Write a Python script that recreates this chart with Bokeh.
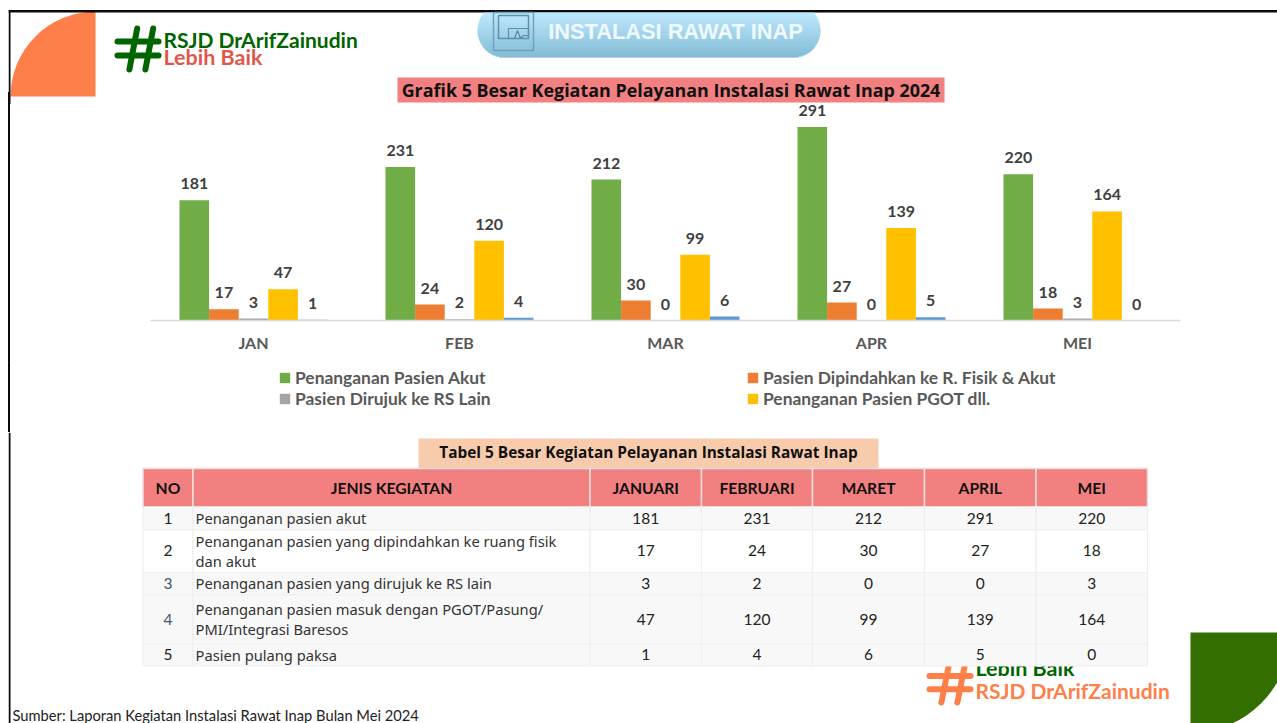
import math
from bokeh.plotting import figure
from bokeh.models import Range1d, FactorRange, Legend, LegendItem, ColumnDataSource
from bokeh.transform import dodge
from bokeh.core.properties import value
from bokeh.embed import file_html
from bokeh.resources import INLINE

# ---- data ----
months = ["JAN", "FEB", "MAR", "APR", "MEI"]
akut = [181, 231, 212, 291, 220]
pindah = [17, 24, 30, 27, 18]
rujuk = [3, 2, 0, 0, 3]
pgot = [47, 120, 99, 139, 164]
pulang = [1, 4, 6, 5, 0]
series_names = ["Penanganan Pasien Akut", "Pasien Dipindahkan ke R. Fisik & Akut",
                "Pasien Dirujuk ke RS Lain", "Penanganan Pasien PGOT dll.", "Pasien Pulang Paksa"]
series_colors = ["#70AD47", "#ED7D31", "#A5A5A5", "#FFC000", "#5B9BD5"]

table_head = ["NO", "JENIS KEGIATAN", "JANUARI", "FEBRUARI", "MARET", "APRIL", "MEI"]
table_no = ["1", "2", "3", "4", "5"]
table_no_colors = ["#222222", "#222222", "#44546A", "#44546A", "#222222"]
table_jenis = [["Penanganan pasien akut"],
               ["Penanganan pasien yang dipindahkan ke ruang fisik", "dan akut"],
               ["Penanganan pasien yang dirujuk ke RS lain"],
               ["Penanganan pasien masuk dengan PGOT/Pasung/", "PMI/Integrasi Baresos"],
               ["Pasien pulang paksa"]]

PAGE_W, TOTAL_H = 1269, 715
H1 = 96                     # header height
Y1, Y2 = 92, 432            # chart top / table top
H2 = Y2 - Y1
H3 = 723 - Y2
BLACK = "#0A0A0A"


def place(f, y):
    f.styles = dict(f.styles or {}, position="absolute", left="8px", top=f"{y}px")


def sheet(top, h):
    f = figure(width=PAGE_W, height=h, x_range=Range1d(8, 1277), y_range=Range1d(top + h, top),
               output_backend="svg", toolbar_location=None, min_border=0, outline_line_color=None)
    f.axis.visible = False
    f.grid.visible = False
    place(f, top)
    return f


def txt(f, x, y, s, size, color, style="normal", font="Lato", align="left"):
    f.text([x], [y], text=[s], text_font=value(font), text_font_size=f"{size}px",
           text_font_style=style, text_color=color, text_align=align, text_baseline="middle")


def hash_mark(f, x0, y0, w, h, color, lw):
    # two slanted verticals + two horizontals
    f.multi_line([[x0 + w * .48, x0 + w * .29], [x0 + w * .87, x0 + w * .68],
                  [x0, x0 + w], [x0, x0 + w]],
                 [[y0, y0 + h], [y0, y0 + h], [y0 + h * .32, y0 + h * .32], [y0 + h * .66, y0 + h * .66]],
                 line_color=color, line_width=lw, line_cap="round")


# ---- header ----
top = sheet(8, H1)
top.wedge([95], [96], radius=85, start_angle=math.pi / 2, end_angle=math.pi,
          fill_color="#FF7F4A", line_color=None)
top.quad(left=[8], right=[1277], top=[9.5], bottom=[12], fill_color=BLACK, line_color=None)
top.quad(left=[8], right=[10], top=[9.5], bottom=[104], fill_color=BLACK, line_color=None)
hash_mark(top, 117, 28, 41, 41, "#006400", 6)
txt(top, 163, 39, "RSJD DrArifZainudin", 21, "#006400", "bold", "Lato")
txt(top, 163, 56.5, "Lebih Baik", 21.5, "#E0584A", "bold", "Lato")

# pill with vertical gradient in thin bands
cy, r, pl, pr = 30, 27, 477, 820
c0, c1 = (170, 226, 255), (90, 166, 199)
for py in range(12, 57):
    d = max(0.0, r * r - (py + .5 - cy) ** 2)
    dx = r - math.sqrt(d)
    t = (py - 12) / 44
    col = "#%02x%02x%02x" % tuple(int(a + (b - a) * t) for a, b in zip(c0, c1))
    top.quad(left=[pl + dx], right=[pr - dx], top=[py], bottom=[py + 1], fill_color=col, line_color=None)
top.quad(left=[493], right=[533], top=[12], bottom=[50], fill_color=None, line_color="#6FA3BD", line_width=1.5)
top.quad(left=[498], right=[528], top=[15], bottom=[38], fill_color=None, line_color="#6090AA", line_width=1.5)
top.quad(left=[508], right=[528], top=[28], bottom=[38], fill_color=None, line_color="#6090AA", line_width=1.2)
top.line([508, 514, 517, 520, 523, 528], [38, 38, 30, 38, 35, 35], line_color="#5A8AA4", line_width=1.2)
txt(top, 675, 31, "INSTALASI RAWAT INAP", 21.8, "#F0F9FD", "bold", "Liberation Sans", "center")

top.quad(left=[397], right=[944], top=[77], bottom=[102], fill_color="#F28080", line_color=None)
txt(top, 670.5, 89.5, "Grafik 5 Besar Kegiatan Pelayanan Instalasi Rawat Inap 2024", 17.9, "#111111", "bold", "Open Sans", "center")

# ---- chart ----
PX_PER_UNIT = 0.665
FRAME_H = 320 - Y1
chart = figure(width=PAGE_W, height=H2, x_range=FactorRange(factors=months, range_padding=0),
               y_range=Range1d(0, FRAME_H / PX_PER_UNIT),
               output_backend="svg", toolbar_location=None, outline_line_color=None,
               min_border_left=142, min_border_right=97, min_border_top=0,
               min_border_bottom=H2 - FRAME_H)
chart.grid.visible = False
chart.yaxis.visible = False
chart.border_fill_color = None
chart.background_fill_color = None
chart.styles = {"background": "linear-gradient(to right,#0A0A0A 2px,transparent 2px)"}
place(chart, Y1)
ax = chart.xaxis[0]
ax.axis_line_color = "#D9D9D9"
ax.axis_line_width = 1.5
ax.major_tick_line_color = None
ax.minor_tick_line_color = None
ax.major_label_standoff = 6
ax.major_label_text_font = "Lato"
ax.major_label_text_font_style = "bold"
ax.major_label_text_font_size = "16px"
ax.major_label_text_color = "#595959"

BAR_W = 29.6 / 206
all_series = [akut, pindah, rujuk, pgot, pulang]
for i, (vals, color) in enumerate(zip(all_series, series_colors)):
    src = ColumnDataSource(dict(m=months, v=vals, s=[str(v) for v in vals]))
    off = (i - 2) * BAR_W
    chart.vbar(x=dodge("m", off, range=chart.x_range), top="v", width=BAR_W, source=src,
               fill_color=color, line_color=None)
    chart.text(x=dodge("m", off, range=chart.x_range), y="v", text="s", source=src, y_offset=-11,
               text_align="center", text_baseline="bottom", text_font=value("Lato"),
               text_font_style="bold", text_font_size="16px", text_color="#404040")

# ---- legend: its own transparent sheet under the axis (a legend is clipped to its frame) ----
leg = sheet(362, 52)
leg.border_fill_color = None
leg.background_fill_color = None
items = []
for i in (0, 2, 1, 3):      # legend fills column by column
    # the key's glyph sits outside the sheet's visible range; only its swatch is seen
    rend = leg.vbar(x=[-50], top=[0], width=1, fill_color=series_colors[i], line_color=None)
    items.append(LegendItem(label=series_names[i], renderers=[rend]))
legend = Legend(items=items, ncols=2, location=(270, 5), border_line_color=None,
                background_fill_alpha=0, padding=0, margin=0, spacing=0, glyph_width=13, glyph_height=13,
                label_standoff=4, label_text_font="Lato", label_text_font_style="bold",
                label_text_font_size="17.4px", label_text_color="#595959", label_width=451, label_height=11)
leg.add_layout(legend)

# ---- table ----
tab = sheet(Y2, H3)
tab.quad(left=[8], right=[10], top=[Y2], bottom=[723], fill_color=BLACK, line_color=None)
tab.wedge([1190], [632], radius=100, start_angle=-math.pi / 2, end_angle=0, fill_color="#336E00", line_color=None)
hash_mark(tab, 929, 663, 41, 39, "#FF7F4A", 6)
txt(tab, 975, 667.5, "Lebih Baik", 21.5, "#006400", "bold", "Lato")
txt(tab, 975, 689.5, "RSJD DrArifZainudin", 21, "#FF7F4A", "bold", "Lato")
txt(tab, 12, 714.5, "Sumber: Laporan Kegiatan Instalasi Rawat Inap Bulan Mei 2024", 14.7, "#222222", "normal", "Lato")

tab.quad(left=[418], right=[878], top=[438], bottom=[468], fill_color="#F8CBAD", line_color=None)
txt(tab, 648, 452, "Tabel 5 Besar Kegiatan Pelayanan Instalasi Rawat Inap", 15.4, "#111111", "bold", "Open Sans", "center")

cols = [142.5, 192.5, 589.5, 701, 812, 924, 1035.5, 1147]
rows = [468, 506.5, 529.5, 572, 594.5, 643.5, 665.5]
row_fill = ["#F8F8F8", "#FFFFFF", "#F8F8F8", "#F8F8F8", "#F8F8F8"]
tab.quad(left=cols[:-1], right=cols[1:], top=[rows[0]] * 7, bottom=[rows[1]] * 7,
         fill_color="#F28080", line_color="#F3DCDC", line_width=1.5)
for k in range(5):
    tab.quad(left=cols[:-1], right=cols[1:], top=[rows[k + 1]] * 7, bottom=[rows[k + 2]] * 7,
             fill_color=row_fill[k], line_color="#EFEFEF", line_width=1.2)
for j, h in enumerate(table_head):
    txt(tab, (cols[j] + cols[j + 1]) / 2, 487, h, 15.7, "#111111", "bold", "Lato", "center")
for k in range(5):
    ym = (rows[k + 1] + rows[k + 2]) / 2
    txt(tab, 167.5, ym - .5, table_no[k], 15.5, table_no_colors[k], "normal", "Lato", "center")
    lines = table_jenis[k]
    for n, line in enumerate(lines):
        yy = ym + (n - (len(lines) - 1) / 2) * 20.5 - .5
        txt(tab, 195, yy, line, 14.7, "#333333", "normal", "Noto Sans")
    for j in range(5):
        txt(tab, (cols[j + 2] + cols[j + 3]) / 2, ym - .5, str(all_series[k][j]), 15.5, "#222222", "normal", "Lato", "center")

open("out.html", "w").write(file_html([top, tab, chart, leg], INLINE))
